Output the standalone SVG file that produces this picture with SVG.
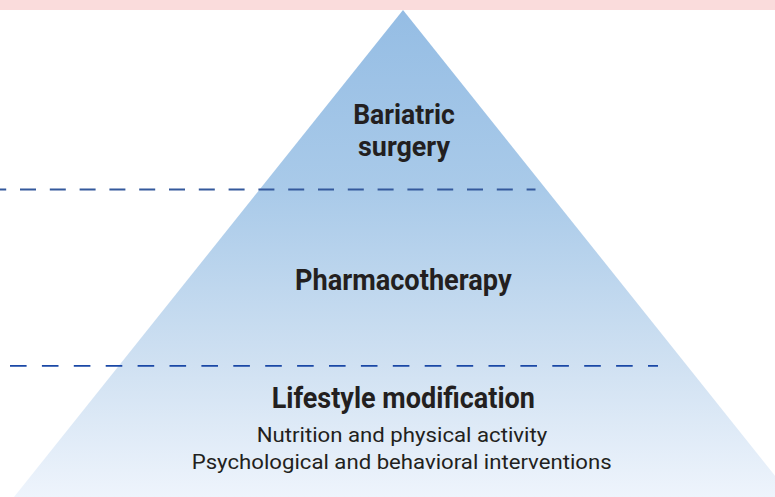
<svg xmlns="http://www.w3.org/2000/svg" width="775" height="497" viewBox="0 0 775 497">
  <defs>
    <linearGradient id="pyramidFill" x1="0" y1="10" x2="0" y2="497" gradientUnits="userSpaceOnUse">
      <stop offset="0" stop-color="#95bde4"/>
      <stop offset="0.37" stop-color="#a9cae9"/>
      <stop offset="0.73" stop-color="#d0e1f2"/>
      <stop offset="1" stop-color="#eef4fc"/>
    </linearGradient>
    <style>
      .title { font-family: "Roboto", "Liberation Sans", sans-serif; font-weight: 700; font-size: 30px; fill: #231f20; }
      .title-sm { font-size: 28px; }
      .sub { font-family: "Roboto", "Liberation Sans", sans-serif; font-weight: 400; font-size: 21px; fill: #231f20; }
      .divider { fill: none; stroke-width: 1.8; }
    </style>
  </defs>

  <!-- background -->
  <rect x="0" y="0" width="775" height="497" fill="#ffffff"/>
  <rect x="0" y="0" width="775" height="10" fill="#fadcdc"/>

  <!-- pyramid body -->
  <polygon id="pyramid" points="403,10 14,497 792,497" fill="url(#pyramidFill)"/>

  <!-- tier dividers -->
  <g id="connectors">
    <line class="divider" x1="-9.8" y1="189.5" x2="535.5" y2="189.5" stroke="#34599c" stroke-dasharray="16 13.8"/>
    <line class="divider" x1="10" y1="365.8" x2="658" y2="365.8" stroke="#1a48a6" stroke-dasharray="16.6 15.3"/>
  </g>

  <g id="tier-surgery">
    <text class="title title-sm" x="404" y="124.3" text-anchor="middle" textLength="101.7" lengthAdjust="spacingAndGlyphs">Bariatric</text>
    <text class="title title-sm" x="404" y="155.5" text-anchor="middle" textLength="92" lengthAdjust="spacingAndGlyphs">surgery</text>
  </g>

  <g id="tier-pharmacotherapy">
    <text class="title" x="403.3" y="290" text-anchor="middle" textLength="216.7" lengthAdjust="spacingAndGlyphs">Pharmacotherapy</text>
  </g>

  <g id="tier-lifestyle">
    <text class="title" x="403.3" y="407.7" text-anchor="middle" textLength="263.3" lengthAdjust="spacingAndGlyphs">Lifestyle modification</text>
    <text class="sub" x="402" y="441.7" text-anchor="middle" textLength="290.6" lengthAdjust="spacingAndGlyphs">Nutrition and physical activity</text>
    <text class="sub" x="401.7" y="469.3" text-anchor="middle" textLength="420" lengthAdjust="spacingAndGlyphs">Psychological and behavioral interventions</text>
  </g>
</svg>
